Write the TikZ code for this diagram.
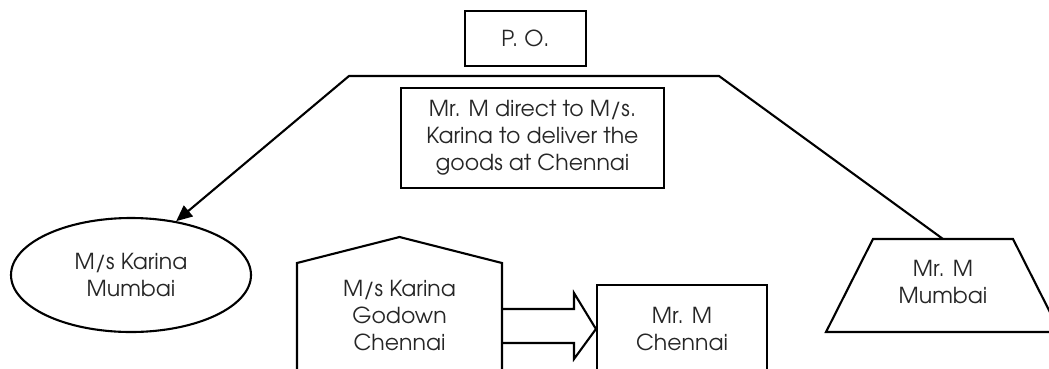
\documentclass[tikz,border=0pt]{standalone}
\usepackage{fontspec}
\setmainfont{texgyreadventor-regular.otf}
\usetikzlibrary{shapes.geometric,arrows.meta}
\begin{document}
\begin{tikzpicture}[x=1pt,y=-1pt,
  every node/.style={font=\fontsize{22}{27}\selectfont, align=center, inner sep=0pt, text=black!85},
  line/.style={line width=2.1pt, line join=miter},
  boxnode/.style={draw, line width=2.1pt, rectangle},
  ellnode/.style={draw, line width=2.1pt, ellipse}
]
\clip (0,0) rectangle (1049,368);
\useasboundingbox (0,0) rectangle (1049,368);

% nodes
\node[boxnode, minimum width=121pt, minimum height=55pt] (po) at (525.5,38.5) {P. O.};
\node[boxnode, minimum width=263pt, minimum height=100pt] (dir) at (532.5,138) {Mr. M direct to M/s.\\Karina to deliver the\\goods at Chennai};
\node[ellnode, minimum width=240pt, minimum height=114pt] (ell) at (131,275) {M/s Karina\\Mumbai};
\node[boxnode, minimum width=170pt, minimum height=88pt] (chen) at (682,329) {Mr. M\\Chennai};
\node (gtext) at (399.5,316) {M/s Karina\\Godown\\Chennai};
\node (ttext) at (943,282) {Mr. M\\Mumbai};

% house shape
\draw[line] (297,420) -- (297,263) -- (399.5,237) -- (502,263) -- (502,420);
% trapezoid
\draw[line] (826,332) -- (873,239) -- (1013,239) -- (1060,332) -- cycle;
\coordinate (ttop) at (943,239);
\coordinate (rc) at (719,76);
\coordinate (lc) at (349,76);

% block arrow
\draw[line] (502,309) -- (574,309) -- (574,293) -- (chen.west) -- (574,359) -- (574,343) -- (502,343);

% connector
\draw[line, -{Triangle[length=16pt,width=14pt]}] (ttop) -- (rc) -- (lc) -- (ell.50);
\end{tikzpicture}
\end{document}
